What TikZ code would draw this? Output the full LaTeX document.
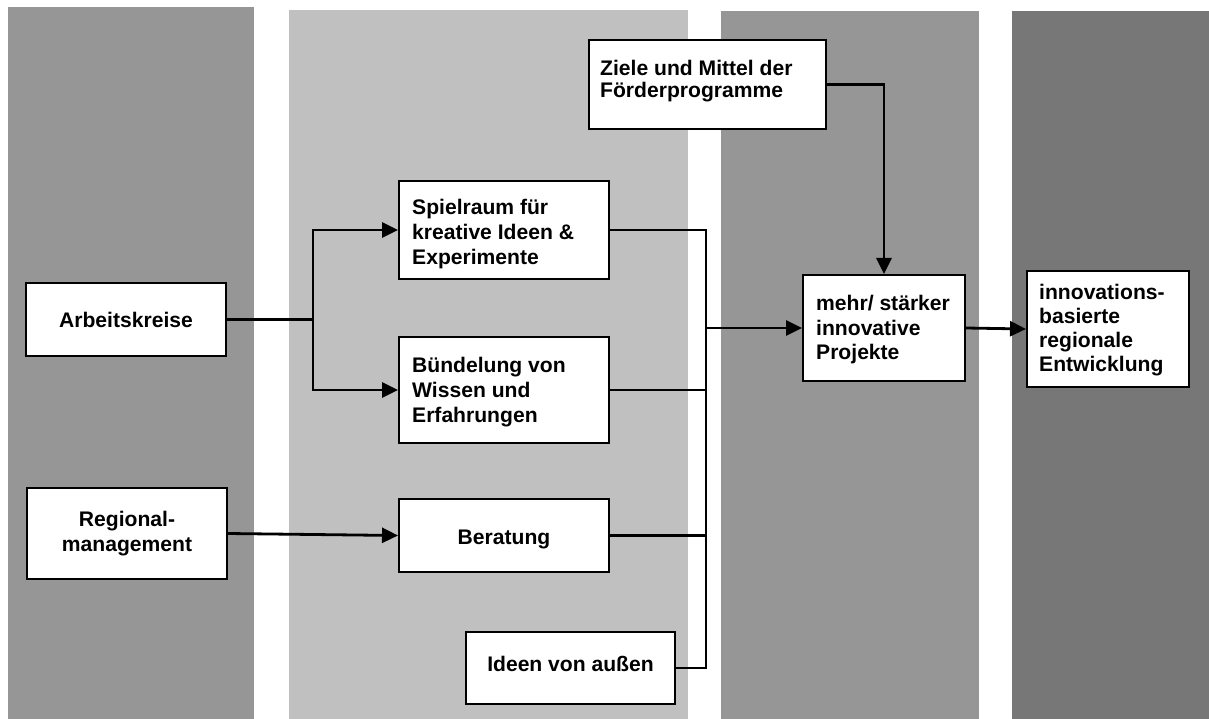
\documentclass[tikz,border=0pt]{standalone}
\usepackage{fontspec}
\setmainfont{Liberation Sans}
\usetikzlibrary{arrows.meta}

\definecolor{bandmid}{HTML}{969696}
\definecolor{bandlight}{HTML}{C0C0C0}
\definecolor{banddark}{HTML}{777777}

\tikzset{
  box/.style={draw=black, fill=white, line width=2pt, inner sep=0pt},
  txt/.style={inner sep=0pt, font=\fontsize{21.1}{25}\selectfont\bfseries},
  ctxt/.style={txt, align=center},
  ltxt/.style={txt, align=left, anchor=west},
  link/.style={line width=2.8pt},
  arr/.style={link, -{Triangle[length=16pt,width=15pt]}},
}

\begin{document}
\begin{tikzpicture}[x=1pt,y=-1pt]
  \useasboundingbox (0,0) rectangle (1209,719);
  \fill[white] (0,0) rectangle (1209,719);

  % four vertical bands
  \fill[bandmid]   (8,7)    rectangle (254,719);
  \fill[bandlight] (289,10) rectangle (688,719);
  \fill[bandmid]   (721,11) rectangle (979,719);
  \fill[banddark]  (1012,11) rectangle (1209,719);

  % boxes
  \node[box, minimum width=200pt, minimum height=73pt] (ark) at (126,319.5) {};
  \node[ctxt] (ark-t) at (ark.center) {Arbeitskreise};

  \node[box, minimum width=200pt, minimum height=91pt] (reg) at (127,533.5) {};
  \node[ctxt] (reg-t) at (reg.center) {Regional-\\management};

  \node[box, minimum width=210pt, minimum height=98pt] (spiel) at (504,230) {};
  \node[ltxt] (spiel-t) at ([xshift=14pt,yshift=-4pt]spiel.west)
    {Spielraum für\\kreative Ideen \&\\Experimente};

  \node[box, minimum width=210pt, minimum height=106pt] (buen) at (504,390) {};
  \node[ltxt] (buen-t) at ([xshift=14pt,yshift=-2pt]buen.west)
    {Bündelung von\\Wissen und\\Erfahrungen};

  \node[box, minimum width=210pt, minimum height=73pt] (ber) at (504,535.5) {};
  \node[ctxt] (ber-t) at ([yshift=-4pt]ber.center) {Beratung};

  \node[box, minimum width=209pt, minimum height=72pt] (ideen) at (570.5,668) {};
  \node[ctxt] (ideen-t) at ([yshift=4pt]ideen.center) {Ideen von außen};

  \node[box, minimum width=237pt, minimum height=89pt] (ziele) at (707.5,84.5) {};
  \node[ltxt, font=\fontsize{21.1}{22}\selectfont\bfseries] (ziele-t) at ([xshift=12pt,yshift=3pt]ziele.west)
    {Ziele und Mittel der\\Förderprogramme};

  \node[box, minimum width=162pt, minimum height=106pt] (mehr) at (884,328) {};
  \node[ltxt, font=\fontsize{21.1}{24.5}\selectfont\bfseries] (mehr-t) at ([xshift=14pt,yshift=-2pt]mehr.west)
    {mehr/ stärker\\innovative\\Projekte};

  \node[box, minimum width=162pt, minimum height=116pt] (innov) at (1108,329) {};
  \node[ltxt, font=\fontsize{21.1}{24}\selectfont\bfseries] (innov-t) at ([xshift=13pt,yshift=-1pt]innov.west)
    {innovations-\\basierte\\regionale\\Entwicklung};

  % junction points
  \coordinate (split) at (313,319.5);
  \coordinate (bus) at (706,328);

  % connectors
  \draw[link] (ark.east) -- (split);
  \draw[arr] (split) |- (spiel.west);
  \draw[arr] (split) |- (buen.west);
  \draw[arr] (reg.east) -- (ber.west);

  \draw[link] (spiel.east) -- (spiel.east -| bus) -- (ber.east -| bus);
  \draw[link] (buen.east) -- (buen.east -| bus);
  \draw[link] (ber.east) -- (ber.east -| bus);
  \draw[link, line width=2pt] (ber.east -| bus) -- (ideen.east -| bus) -- (ideen.east);
  \draw[arr] (bus) -- (mehr.west);

  \draw[arr] (ziele.east) -| (mehr.north);
  \draw[arr] (mehr.east) -- (innov.west);
\end{tikzpicture}
\end{document}
